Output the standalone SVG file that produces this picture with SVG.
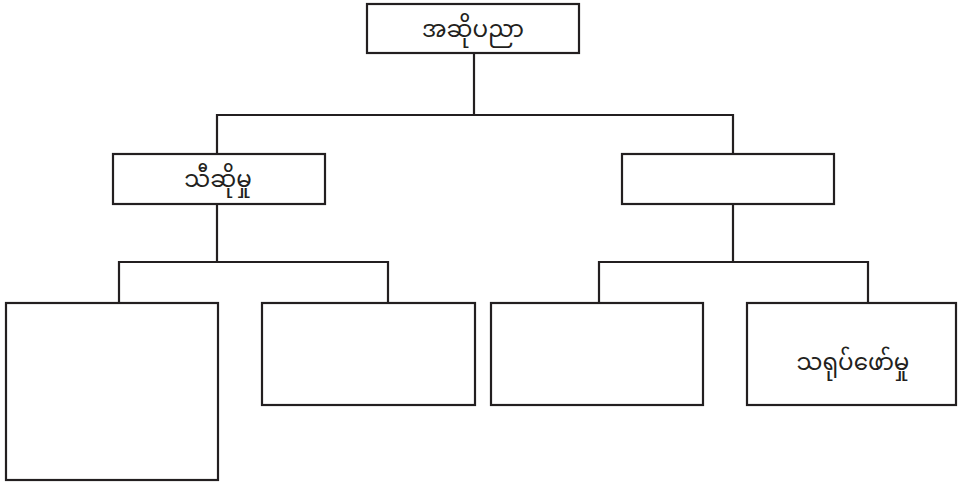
<svg xmlns="http://www.w3.org/2000/svg" width="958" height="482" viewBox="0 0 958 482">
<style>
.box{fill:#fff;stroke:#231f20;stroke-width:2.2}
.ln{fill:none;stroke:#231f20;stroke-width:2.2}
.t{font-family:"Noto Sans Myanmar","Noto Sans","Padauk","Myanmar Text",sans-serif;font-size:23px;fill:#231f20;text-anchor:middle}
</style>
<rect width="958" height="482" fill="#fff"/>
<g id="connectors">
<path class="ln" d="M474 53V115M217 154V115H733V154"/>
<path class="ln" d="M217 204V262M119 303V262H388V303"/>
<path class="ln" d="M733 204V262M599 303V262H868V303"/>
</g>
<g id="n-root"><rect class="box" x="367" y="4" width="212" height="49"/><text class="t" x="473" y="37">အဆိုပညာ</text></g>
<g id="n-sing"><rect class="box" x="113" y="154" width="212" height="50"/><text class="t" x="218" y="187">သီဆိုမှု</text></g>
<g id="n-right"><rect class="box" x="622" y="154" width="212" height="50"/></g>
<g id="n-a"><rect class="box" x="6" y="303" width="212" height="177"/></g>
<g id="n-b"><rect class="box" x="262" y="303" width="213" height="102"/></g>
<g id="n-c"><rect class="box" x="491" y="303" width="212" height="102"/></g>
<g id="n-d"><rect class="box" x="747" y="303" width="209" height="102"/><text class="t" x="853" y="370">သရုပ်ဖော်မှု</text></g>
</svg>
